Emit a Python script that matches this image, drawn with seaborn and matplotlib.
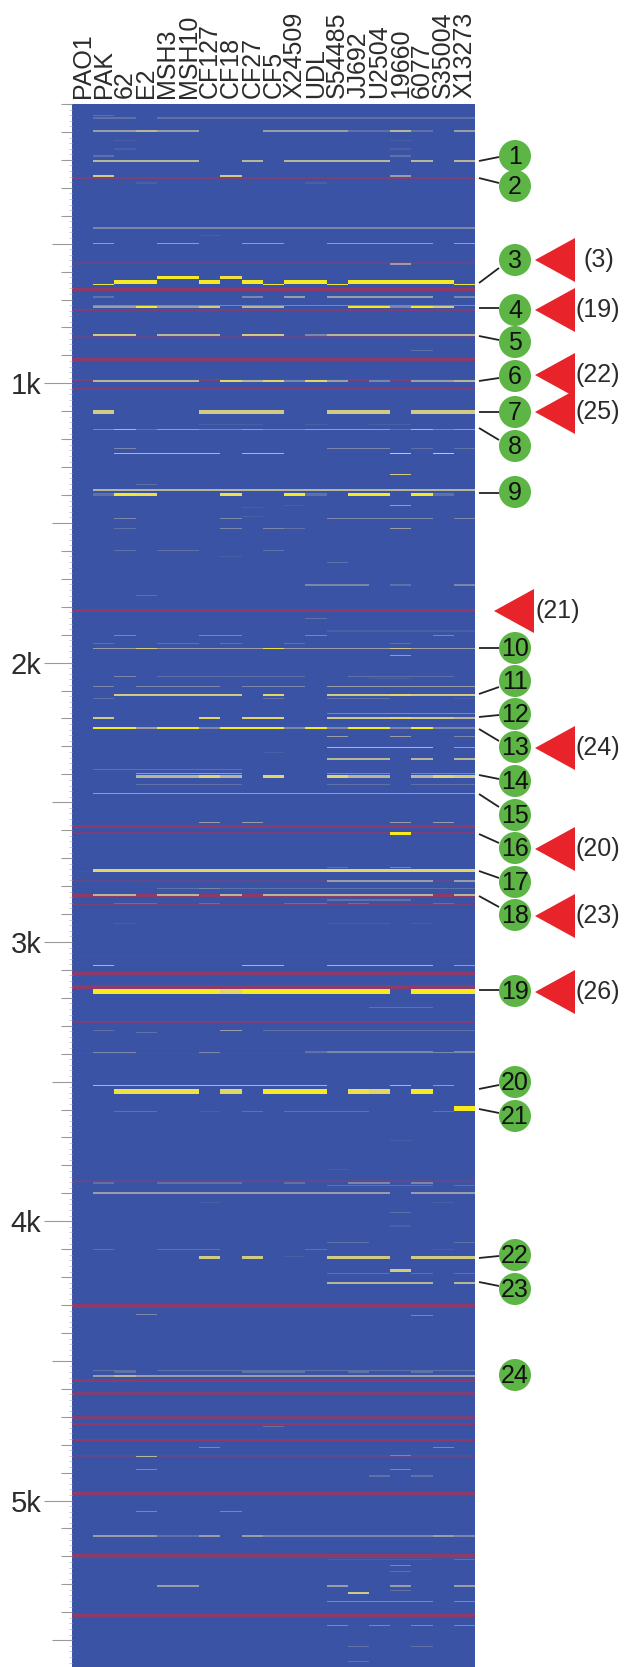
import numpy as np
import pandas as pd
import matplotlib
matplotlib.use('Agg')
import matplotlib.pyplot as plt
from matplotlib.colors import LinearSegmentedColormap
from matplotlib.patches import Circle, Polygon
import seaborn as sns

strains = ['PAO1', 'PAK', '62', 'E2', 'MSH3', 'MSH10', 'CF127', 'CF18', 'CF27', 'CF5',
           'X24509', 'UDL', 'S54485', 'JJ692', 'U2504', '19660', '6077', 'S35004', 'X13273']

# gene order position of each hit, its length, and one level digit per strain (0 = no hit)
hit_pos = [42, 50, 97, 132, 161, 186, 203, 257, 283, 444, 471, 499, 573, 622, 646, 638, 691, 720, 727, 827,
           882, 992, 1103, 1146, 1164, 1234, 1251, 1325, 1362, 1381, 1399, 1437, 1445, 1478, 1484, 1521,
           1599, 1621, 1640, 1722, 1759, 1842, 1887, 1902, 1930, 1949, 1975, 2049, 2056, 2085, 2115, 2130,
           2182, 2197, 2234, 2263, 2305, 2323, 2344, 2382, 2397, 2406, 2437, 2469, 2573, 2610, 2734, 2744,
           2783, 2808, 2832, 2850, 2862, 2935, 3083, 3177, 3234, 3318, 3325, 3393, 3397, 3515, 3534, 3597,
           3606, 3712, 3814, 3863, 3873, 3898, 3934, 3968, 4017, 4077, 4101, 4125, 4130, 4177, 4187, 4221,
           4335, 4339, 4533, 4540, 4554, 4736, 4811, 4838, 4843, 4888, 4912, 5040, 5127, 5211, 5232, 5255,
           5305, 5323, 5332, 5361, 5447, 5523, 5577]
hit_len = [4, 4, 6, 4, 4, 4, 6, 8, 4, 4, 4, 5, 4, 11, 6, 15, 4, 4, 9, 7,
           4, 6, 13, 4, 5, 4, 6, 5, 4, 8, 10, 4, 4, 4, 4, 4,
           4, 4, 4, 4, 4, 4, 4, 4, 4, 6, 4, 4, 4, 4, 9, 4,
           4, 9, 10, 4, 4, 4, 6, 4, 4, 11, 4, 6, 5, 11, 4, 8,
           6, 4, 5, 4, 4, 4, 5, 19, 4, 4, 4, 5, 4, 4, 19, 17,
           4, 4, 4, 4, 4, 7, 4, 4, 4, 4, 4, 4, 11, 11, 4, 9,
           4, 4, 4, 4, 5, 4, 4, 4, 4, 4, 4, 4, 5, 4, 4, 4,
           5, 4, 6, 4, 4, 4, 4]
hit_levels = [
    '02', '0220222222222222222', '0445440004444225204', '0010000000000001', '0010000000000001',
    '0200000000000002', '0555550050555550505', '0600000600000004', '000100000001',
    '0333333333333333333', '0000001', '0400440044004444404', '0000000000000004', '00009908',
    '0800000008008000008', '009900909099099999', '0200000030404444403', '0333333333333333333',
    '0449446055000993960', '0660555066035555555', '00000000000000002', '0555550757374030445',
    '0600006666006660666', '0000001110010011', '0352443343344442534', '0030000000003330202',
    '005555505500000606', '0000000000000006', '0002', '0555555555555555555', '029800080092099092',
    '0000000000100004', '000000001', '000000001', '0030000300003333303', '0020000303200004',
    '0020220002', '00000001', '0000000000002', '0000000000033302003', '0002', '000000000002',
    '0000000000001111111', '003000330003000003', '0200220200200002', '0446444448444446444',
    '0000000000000004', '003022222220022222', '0000000000000011', '0303333033304444444',
    '0066666607006667666', '0200000002002220001', '0000000000003333333', '0600007077006667665',
    '0994993999393993933', '0000000000004004003', '0000000000005555504', '0000000001',
    '0000000000005550505', '02222222', '0004444400003330333', '0005557507007550576',
    '0002222200002220222', '0444444444444444444', '000000404000000404', '0000000000000009',
    '0000000000002003', '0777777777777777777', '0000000000004444404', '0000223222222222222',
    '0550550505555555505', '0000000000002222', '002200200022020002', '00100000000011101',
    '0500000055005555504', '0999999799999990999', '00000000000000222', '0200000402222222222',
    '0002', '0000000000023333303', '033000300000000003', '055555555555000504',
    '00888807099908709', '0000000000000000009', '002200102022220002', '0000000000000001',
    '0000000000001', '02002222002003303', '0000000000002222202', '0444444444444440444',
    '000000100000000001', '0000000000000002', '0000000000000001', '0000000000002200002',
    '020022200002000001', '00000000001', '0000006060006660666', '0000000000000006',
    '0000000000002220202', '0000000000005555505', '0003', '00000000000000003',
    '0220222222222222222', '00200000222002002', '0454444444444444444', '0000000002',
    '000000300000000003', '0000000000000003', '0005', '0003000000000003', '00000000000000202',
    '00030003', '0444224043333333343', '0000000000001111102', '0000000000000003', '0000000000000002',
    '0000440000004004004', '0000000000000002', '00000000000006', '0000000000003333303',
    '0000000000003030303', '00000000000002002', '00000000000002']

# full width rows hit only in the transcript set (reddish bands)
band_pos = [264, 570, 664, 738, 833, 914, 988, 1020, 1814, 2587, 2611, 2747, 2783, 2835, 2866, 3049, 3114,
            3160, 3287, 3399, 3856, 4304, 4570, 4616, 4703, 4726, 4782, 4841, 4974, 5199, 5413]
band_len = [6, 6, 14, 7, 5, 12, 5, 7, 12, 12, 6, 4, 6, 10, 6, 4, 10, 14, 9, 4, 4, 12, 10, 11, 13, 10, 9, 8, 9, 14, 10]
band_level = [2, 1, 3, 2, 1, 3, 2, 2, 3, 3, 2, 1, 1, 3, 2, 1, 3, 3, 2, 1, 1, 3, 3, 2, 2, 3, 3, 1, 3, 3, 3]

k_ticks = [1000, 2000, 3000, 4000, 5000]
k_labels = ['1k', '2k', '3k', '4k', '5k']

# numbered callouts: circle centre, leader start and end (pixels)
circle_y = [156, 186, 260, 310, 342, 376, 412, 446, 492, 648, 681, 714, 747, 781, 815, 848, 882, 915,
            991, 1082, 1116, 1255, 1289, 1375]
leader_from = [161, 178, 283, 308, 336, 381, 412, 428, 493, 648, 694, 717, 729, 775, 794, 834, 871, 896,
               990, 1089, 1109, 1258, 1282, None]
leader_to = [157, 183, 268, 308, 340, 378, 412, 440, 493, 648, 687, 715, 741, 779, 807, 843, 878, 907,
             990, 1085, 1113, 1256, 1286, None]

# red arrowheads with their cluster number
tri_y = [260, 310, 375, 412, 611, 748, 849, 916, 992]
tri_tip = [535, 535, 535, 535, 494, 535, 535, 535, 535]
tri_text = ['(3)', '(19)', '(22)', '(25)', '(21)', '(24)', '(20)', '(23)', '(26)']
tri_text_x = [599, 598, 598, 598, 558, 598, 598, 598, 598]

plt.rcParams['font.family'] = ['Liberation Sans', 'DejaVu Sans']

n_rows = 5596
matrix = np.zeros((n_rows, len(strains)))
for pos, length, level in zip(band_pos, band_len, band_level):
    matrix[pos - length // 2:pos - length // 2 + length, :] = -level
for pos, length, levels in zip(hit_pos, hit_len, hit_levels):
    start = pos - length // 2
    for col, ch in enumerate(levels):
        if ch != '0':
            matrix[start:start + length, col] = int(ch)
df = pd.DataFrame(matrix, columns=strains)

nodes = ['#8e3a6a', '#7a4078', '#5c4a90', '#3a53a4', '#4a60a6', '#5f72a8', '#7a86a8', '#9a9ea4',
         '#b8b698', '#d0ca84', '#e2d766', '#efe044', '#f8ea20']
cmap = LinearSegmentedColormap.from_list('hits', nodes, N=256)

W, H = 624, 1667
left, right, top = 72, 475, 104
fig = plt.figure(figsize=(W / 100, H / 100), dpi=100, facecolor='white')
ax = fig.add_axes([left / W, 0, (right - left) / W, (H - top) / H])

sns.heatmap(df, ax=ax, cmap=cmap, vmin=-3, vmax=9, cbar=False, xticklabels=True, yticklabels=False,
            linewidths=0, rasterized=True)

ax.xaxis.tick_top()
ax.tick_params(axis='x', length=0, pad=4, labelsize=18, labelcolor='#2b2b2b', rotation=90)
for lab in ax.get_xticklabels():
    lab.set_rotation(90)
    lab.set_va('bottom')
    lab.set_ha('center')

# y ruler: long at each 1k, middling at 500, short at 100, hairline at 20
ax.set_yticks(np.arange(0, n_rows, 100))
ax.set_yticklabels([k_labels[k_ticks.index(v)] if v in k_ticks else '' for v in np.arange(0, n_rows, 100)])
ax.tick_params(axis='y', which='major', length=20, width=0.8, color='#999999', pad=2,
               labelsize=21, labelcolor='#2b2b2b', labelrotation=0)
for tick, v in zip(ax.yaxis.get_major_ticks(), np.arange(0, n_rows, 100)):
    if v % 1000 == 0 and v > 0:
        tick.tick1line.set_markersize(20)
    elif v % 500 == 0 and v > 0:
        tick.tick1line.set_markersize(14.5)
    else:
        tick.tick1line.set_markersize(8)
ax.set_yticks(np.arange(0, n_rows, 20), minor=True)
ax.tick_params(axis='y', which='minor', length=2.5, width=0.5, color='#bbbbbb')
ax.set_xlabel('')
ax.set_ylabel('')

over = fig.add_axes([0, 0, 1, 1], facecolor='none')
over.set_xlim(0, W)
over.set_ylim(H, 0)
over.axis('off')

for i, cy in enumerate(circle_y):
    if leader_from[i] is not None:
        over.plot([479, 499], [leader_from[i], leader_to[i]], color='#222222', lw=1.3, solid_capstyle='butt')
    over.add_patch(Circle((515, cy), 16, facecolor='#5cb544', edgecolor='none', zorder=3))
    over.text(515, cy + 0.5, str(i + 1), ha='center', va='center', fontsize=18, color='#111111', zorder=4)

for cy, tip, txt, tx in zip(tri_y, tri_tip, tri_text, tri_text_x):
    over.add_patch(Polygon([[tip, cy], [tip + 40, cy - 22], [tip + 40, cy + 22]], closed=True,
                           facecolor='#e8242a', edgecolor='none', zorder=3))
    over.text(tx, cy, txt, ha='center', va='center', fontsize=18, color='#2b2b2b', zorder=4)

fig.savefig('out.png', dpi=100)
